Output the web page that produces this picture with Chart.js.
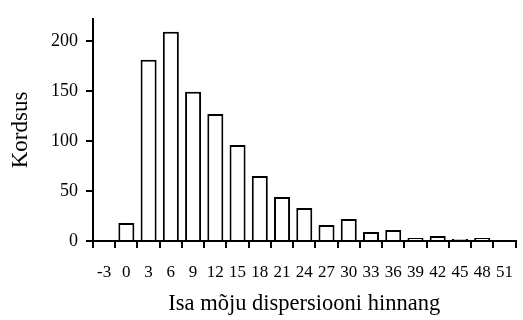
<!DOCTYPE html>
<html>
<head>
<meta charset="utf-8">
<script src="https://cdn.jsdelivr.net/npm/chart.js@4"></script>
<style>
  html, body { margin: 0; padding: 0; background: #fff; overflow: hidden; }
  #wrap { width: 523px; height: 320px; overflow: hidden; }
</style>
</head>
<body>
<div id="wrap"><canvas id="histChart" width="527" height="320"></canvas></div>
<script>
"use strict";

// Histogram data (bin centres and counts)
const binLabels = ["-3", "0", "3", "6", "9", "12", "15", "18", "21", "24", "27", "30", "33", "36", "39", "42", "45", "48", "51"];
const counts = [0, 18, 181, 209, 149, 127, 96, 65, 44, 33, 16, 22, 9, 11, 3, 5, 2, 3, 0];
const yTicks = [0, 50, 100, 150, 200];

const xTitle = "Isa mõju dispersiooni hinnang";
const yTitle = "Kordsus";

const serif = "'Liberation Serif', 'Times New Roman', serif";

const ctx = document.getElementById("histChart").getContext("2d");

new Chart(ctx, {
  type: "bar",
  data: {
    labels: binLabels,
    datasets: [
      {
        data: counts,
        backgroundColor: "#ffffff",
        borderColor: "#000000",
        borderWidth: 2,
        barPercentage: 0.72,
        categoryPercentage: 1.0,
      },
    ],
  },
  options: {
    responsive: false,
    animation: false,
    layout: {
      padding: { top: 16, right: 2.6, bottom: 0, left: 0 },
    },
    plugins: {
      legend: { display: false },
      tooltip: { enabled: false },
    },
    scales: {
      x: {
        offset: true,
        grid: {
          offset: true,
          drawOnChartArea: false,
          drawTicks: true,
          tickLength: 7,
          color: "#000",
          lineWidth: 2,
        },
        border: { display: true, color: "#000", width: 2 },
        ticks: {
          color: "#000",
          padding: 14,
          maxRotation: 0,
          autoSkip: false,
          font: { family: serif, size: 17 },
        },
        title: {
          display: true,
          text: xTitle,
          color: "#000",
          padding: { top: 0, bottom: 2 },
          font: { family: serif, size: 22.5 },
        },
        afterFit: function (scale) {
          scale.height = 79;
        },
      },
      y: {
        min: 0,
        max: 222,
        grid: {
          drawOnChartArea: false,
          drawTicks: true,
          tickLength: 7,
          color: "#000",
          lineWidth: 2,
        },
        border: { display: true, color: "#000", width: 2 },
        ticks: {
          color: "#000",
          padding: 8,
          font: { family: serif, size: 18 },
        },
        afterBuildTicks: function (scale) {
          scale.ticks = yTicks.map((v) => ({ value: v }));
        },
        title: {
          display: true,
          text: yTitle,
          color: "#000",
          padding: { top: 7, bottom: 0 },
          font: { family: serif, size: 23 },
        },
        afterFit: function (scale) {
          scale.width = 93;
        },
      },
    },
  },
});
</script>
</body>
</html>
